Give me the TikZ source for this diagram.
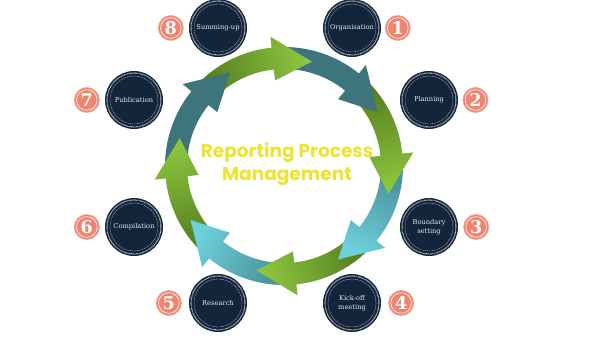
\documentclass[tikz,border=0pt]{standalone}
\usepackage{fontspec}
\setmainfont{DejaVu Serif}
\newfontfamily\titlefont{Poppins}
\usetikzlibrary{positioning,calc}

\definecolor{NavyStep}{HTML}{13253B}
\definecolor{StepText}{HTML}{E4E7EC}
\definecolor{SalmonBadge}{HTML}{EF8470}
\definecolor{TitleYellow}{HTML}{EDE330}
\definecolor{TealDark}{HTML}{3E747C}
\definecolor{TealMid}{HTML}{4A949E}
\definecolor{CyanLight}{HTML}{6DD0DA}
\definecolor{GreenDark}{HTML}{557F1F}
\definecolor{GreenLight}{HTML}{8DC63F}

% ring piece: tip angle #1, band 97..119, head 86..130
\newcommand{\ringpiece}[1]{%
  (#1+60:119) arc[start angle=#1+60, end angle=#1+21, radius=119]
  -- (#1+21:130) -- (#1:108) -- (#1+21:86) -- (#1+21:97)
  arc[start angle=#1+21, end angle=#1+60, radius=97] -- cycle}
\newcommand{\ringhead}[1]{(#1+21:130) -- (#1:108) -- (#1+21:86) -- cycle}

\begin{document}
\begin{tikzpicture}[
  x=0.03cm, y=0.03cm,
  stepbox/.style={
    circle, fill=NavyStep, draw=NavyStep, line width=0.8pt,
    minimum size=1.71cm, inner sep=0pt, align=center,
    text=StepText, font=\fontsize{5.7}{8}\selectfont
  },
  rimdots/.style={white!80!NavyStep, line width=0.9pt, dash pattern=on 0.5pt off 0.55pt},
  rimline/.style={white!75!NavyStep, line width=0.3pt, dash pattern=on 0.9pt off 0.6pt},
  badge/.style={
    circle, fill=SalmonBadge, draw=SalmonBadge!75!white, line width=0.6pt,
    minimum size=0.75cm, inner sep=0pt, text=white,
    font=\bfseries\fontsize{15}{15}\selectfont
  },
  titletext/.style={font=\titlefont\bfseries\fontsize{15.8}{19.5}\selectfont, text=TitleYellow, align=center}
]
\useasboundingbox[fill=white] (0,0) rectangle (600,338);

% --- ring of arrows (tip angle = 75-45k)
\begin{scope}[shift={(284,172)}]
  \foreach \k/\tailc/\headc in {7/TealDark/TealDark, 6/GreenDark/GreenLight,
      5/TealMid/CyanLight, 4/GreenDark/GreenLight, 3/TealMid/CyanLight,
      2/GreenDark/GreenLight, 1/TealDark/TealDark, 0/GreenDark/GreenLight}{
    \pgfmathsetmacro\tip{75-45*\k}
    \pgfmathsetmacro\shang{\tip-150}
    \shade[top color=\headc, bottom color=\tailc, shading angle=\shang] \ringpiece{\tip};
  }
  % head of the last piece back on top
  \begin{scope}
    \clip \ringhead{-240};
    \shade[top color=TealDark, bottom color=TealDark, shading angle=-390] \ringpiece{-240};
  \end{scope}
\end{scope}

% --- title
\node[titletext] (title) at (287,174) {Reporting Process\\Management};

% --- steps
\foreach \name/\pos/\txt in {org/{(352,310)}/Organisation, plan/{(429,238)}/Planning,
    bound/{(429,111)}/{Boundary\\setting}, kick/{(352,35)}/{Kick-off\\meeting},
    res/{(218,35)}/Research, comp/{(134,111)}/Compilation,
    pub/{(134,238)}/Publication, sum/{(218,310)}/Summing-up}{
  \node[stepbox] (\name) at \pos {\txt};
  \draw[rimdots] (\name.center) circle (0.81cm);
  \draw[rimline] (\name.center) circle (0.72cm);
}

% --- numbers
\node[badge, right=0.12cm of org]   (b1) {1};
\node[badge, right=0.14cm of plan]  (b2) {2};
\node[badge, right=0.16cm of bound] (b3) {3};
\node[badge, right=0.22cm of kick]  (b4) {4};
\node[badge, left=0.22cm of res]    (b5) {5};
\node[badge, left=0.16cm of comp]   (b6) {6};
\node[badge, left=0.16cm of pub]    (b7) {7};
\node[badge, left=0.16cm of sum]    (b8) {8};
\foreach \b in {b1,b2,b3,b4,b5,b6,b7,b8}
  \draw[white, line width=0.5pt] (\b.center) circle (0.31cm);

\end{tikzpicture}
\end{document}
